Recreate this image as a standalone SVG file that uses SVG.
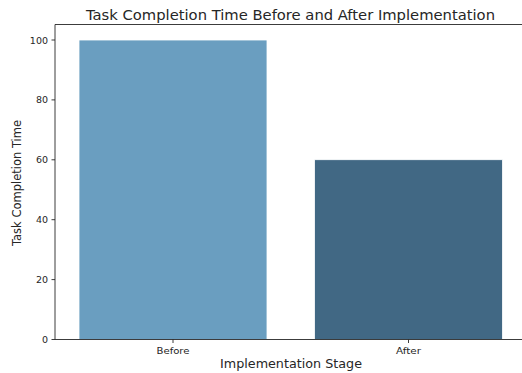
<svg xmlns="http://www.w3.org/2000/svg" width="522" height="373" viewBox="0 0 522 373">
  <style>
    text { font-family: "DejaVu Sans", "Liberation Sans", sans-serif; fill: #262626; }
    .tick { font-size: 9.5px; }
    .ylab { text-anchor: end; }
    .xlab { text-anchor: middle; }
    .axis-title { font-size: 11.5px; text-anchor: middle; }
    .spine { stroke: #262626; stroke-width: 0.9; fill: none; }
    .tickmark { stroke: #262626; stroke-width: 0.9; }
    .bar { stroke: #ffffff; stroke-width: 0.8; }
  </style>
  <rect width="522" height="373" fill="#ffffff"/>

  <!-- bars -->
  <g id="bar-before">
    <rect class="bar" x="79" y="40" width="188" height="299.5" fill="#6a9ec0"/>
  </g>
  <g id="bar-after">
    <rect class="bar" x="314.5" y="159.7" width="188" height="179.8" fill="#416884"/>
  </g>

  <!-- axes -->
  <g id="axes">
    <polyline class="spine" points="522,24.5 55,24.5 55,339.5 522,339.5"/>
    <g class="tickmark">
      <line x1="51.5" y1="339.5" x2="55" y2="339.5"/>
      <line x1="51.5" y1="279.6" x2="55" y2="279.6"/>
      <line x1="51.5" y1="219.7" x2="55" y2="219.7"/>
      <line x1="51.5" y1="159.8" x2="55" y2="159.8"/>
      <line x1="51.5" y1="99.9" x2="55" y2="99.9"/>
      <line x1="51.5" y1="40" x2="55" y2="40"/>
      <line x1="173" y1="339.5" x2="173" y2="343"/>
      <line x1="408.5" y1="339.5" x2="408.5" y2="343"/>
    </g>
    <g class="tick ylab">
      <text x="48" y="343">0</text>
      <text x="48" y="283">20</text>
      <text x="48" y="223">40</text>
      <text x="48" y="163">60</text>
      <text x="48" y="103">80</text>
      <text x="48" y="43.5">100</text>
    </g>
    <g class="tick xlab">
      <text x="173" y="353.5" textLength="33" lengthAdjust="spacingAndGlyphs">Before</text>
      <text x="408.5" y="353.5" textLength="25" lengthAdjust="spacingAndGlyphs">After</text>
    </g>
    <text class="axis-title" x="291" y="368" textLength="142" lengthAdjust="spacingAndGlyphs">Implementation Stage</text>
    <text class="axis-title" transform="translate(21,183) rotate(-90)">Task Completion Time</text>
  </g>

  <text id="title" x="290.5" y="19.5" font-size="13.5" text-anchor="middle" textLength="409" lengthAdjust="spacingAndGlyphs">Task Completion Time Before and After Implementation</text>
</svg>
